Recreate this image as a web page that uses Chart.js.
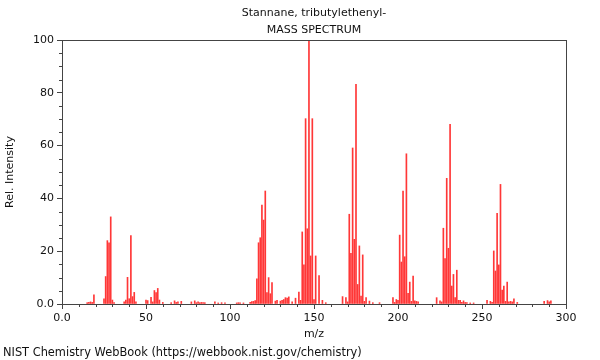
<!DOCTYPE html>
<html>
<head>
<meta charset="utf-8">
<script src="https://cdn.jsdelivr.net/npm/chart.js@4.4.0/dist/chart.umd.min.js"></script>
<style>
  html, body { margin: 0; padding: 0; background: #fff; }
  #wrap { width: 600px; height: 360px; }
</style>
</head>
<body>
<div id="wrap"><canvas id="myChart" width="600" height="360"></canvas></div>
<script>
// m/z values and relative intensities
var mz = [
  15, 16, 17, 18, 19, 25, 26, 27, 28, 29, 30, 31,
  37, 38, 39, 40, 41, 42, 43, 44, 50, 51, 53, 54, 55, 56, 57, 58, 60,
  65, 67, 68, 69, 71, 77, 79, 80, 81, 82, 83, 84, 85, 91, 93, 95, 97,
  104, 105, 106, 108, 112, 113, 114, 115, 116, 117, 118, 119, 120, 121,
  122, 123, 124, 125, 127, 128, 130, 131, 132, 133, 134, 135, 137, 139,
  141, 142, 143, 144, 145, 146, 147, 148, 149, 150, 151, 153, 155, 157,
  167, 169, 170, 171, 172, 173, 174, 175, 176, 177, 178, 179, 180, 181, 183, 185, 189,
  197, 198, 199, 200, 201, 202, 203, 204, 205, 206, 207, 208, 209, 210, 211, 212,
  223, 225, 226, 227, 228, 229, 230, 231, 232, 233, 234, 235, 236, 237, 238, 239, 240, 241, 243, 245,
  253, 255, 256, 257, 258, 259, 260, 261, 262, 263, 264, 265, 266, 267, 268, 269, 271,
  287, 289, 290, 291
];
var intensity = [
  0.5, 0.6, 0.8, 0.6, 3.5, 2.0, 10.4, 24.0, 23.2, 33.0, 1.5, 0.5,
  0.8, 1.5, 10.1, 2.0, 25.9, 2.8, 4.4, 0.8, 1.5, 1.3, 2.5, 0.8, 5.1, 4.3, 5.9, 1.5, 0.6,
  0.5, 1.2, 0.6, 0.8, 1.0, 0.8, 1.2, 0.5, 0.8, 0.5, 0.6, 0.5, 0.5, 0.8, 0.4, 0.5, 0.4,
  0.4, 0.5, 0.4, 0.4, 0.6, 0.9, 1.0, 1.3, 9.5, 23.2, 25.1, 37.5, 31.8, 42.8,
  4.3, 10.0, 3.9, 8.1, 1.1, 1.4, 1.1, 1.4, 1.7, 2.4, 2.2, 2.7, 0.8, 2.2,
  4.5, 1.4, 27.3, 14.8, 70.2, 28.5, 100, 18.2, 70.2, 1.7, 18.2, 10.8, 1.4, 0.5,
  2.8, 2.4, 0.8, 34.0, 19.2, 59.1, 24.5, 83.2, 7.4, 22.0, 3.0, 18.6, 1.0, 2.4, 1.1, 0.5, 0.5,
  2.4, 0.6, 1.7, 1.4, 26.1, 15.9, 42.8, 17.9, 56.9, 4.0, 8.3, 1.0, 10.6, 1.2, 1.0, 0.8,
  2.4, 1.2, 0.8, 28.7, 17.2, 47.6, 21.1, 68.1, 6.8, 11.2, 2.4, 12.8, 1.4, 1.4, 0.6, 1.2, 0.6, 0.5, 0.4, 0.4,
  1.4, 1.0, 0.6, 20.1, 12.5, 34.3, 14.8, 45.3, 5.3, 6.8, 1.0, 8.3, 0.8, 1.0, 0.8, 2.0, 0.6,
  1.0, 1.3, 0.8, 1.2
];
var xTicks = [0, 50, 100, 150, 200, 250, 300];
var yTicks = [0, 20, 40, 60, 80, 100];

var points = mz.map(function (m, i) { return { x: m, y: intensity[i] }; });

var axisColor = '#444';
var textColor = '#111';
var font = { family: 'DejaVu Sans', size: 11 };

// frame, minor ticks and the text lines around the plot
var decorations = {
  id: 'decorations',
  afterDraw: function (chart) {
    var c = chart.ctx;
    var a = chart.chartArea;
    var xs = chart.scales.x, ys = chart.scales.y;
    c.save();
    c.strokeStyle = axisColor;
    c.lineWidth = 1;
    c.strokeRect(Math.round(a.left) + 0.5, Math.round(a.top) + 0.5,
      Math.round(a.right - a.left), Math.round(a.bottom - a.top));
    c.beginPath();
    for (var v = 0; v <= 300; v += 10) {
      if (v % 50 === 0) continue;
      var px = Math.round(xs.getPixelForValue(v)) + 0.5;
      c.moveTo(px, a.bottom);
      c.lineTo(px, a.bottom + 3);
    }
    for (var w = 0; w <= 100; w += 5) {
      if (w % 20 === 0) continue;
      var py = Math.round(ys.getPixelForValue(w)) + 0.5;
      c.moveTo(a.left, py);
      c.lineTo(a.left - 3, py);
    }
    c.stroke();

    c.fillStyle = textColor;
    c.font = '11px "DejaVu Sans"';
    c.textAlign = 'center';
    c.textBaseline = 'middle';
    var cx = (a.left + a.right) / 2;
    c.fillText('Stannane, tributylethenyl-', cx, 13);
    c.fillText('MASS SPECTRUM', cx, 30);
    c.textAlign = 'left';
    c.font = '11.4px "DejaVu Sans"';
    c.fillText('NIST Chemistry WebBook (https://webbook.nist.gov/chemistry)', 3, 353);
    c.restore();
  }
};

var ctx = document.getElementById('myChart').getContext('2d');
var myChart = new Chart(ctx, {
  type: 'bar',
  data: {
    datasets: [{
      data: points,
      backgroundColor: 'rgb(255, 55, 55)',
      borderWidth: 0,
      barThickness: 1
    }]
  },
  options: {
    responsive: false,
    animation: false,
    layout: { padding: { top: 40, right: 34, left: 0, bottom: 0 } },
    plugins: {
      legend: { display: false },
      tooltip: { enabled: false }
    },
    scales: {
      x: {
        type: 'linear',
        min: 0,
        max: 300,
        offset: false,
        afterFit: function (s) { s.height = 56; },
        afterBuildTicks: function (s) { s.ticks = xTicks.map(function (v) { return { value: v }; }); },
        grid: { drawOnChartArea: false, tickLength: 5, color: axisColor, offset: false },
        border: { color: axisColor },
        ticks: {
          color: textColor, font: font, padding: 3, maxRotation: 0,
          callback: function (v) { return v === 0 ? '0.0' : String(v); }
        },
        title: { display: true, text: 'm/z', color: textColor, font: font, padding: { top: 0, bottom: 19 } }
      },
      y: {
        min: 0,
        max: 100,
        afterFit: function (s) { s.width = 62; },
        afterBuildTicks: function (s) { s.ticks = yTicks.map(function (v) { return { value: v }; }); },
        grid: { drawOnChartArea: false, tickLength: 5, color: axisColor },
        border: { color: axisColor },
        ticks: {
          color: textColor, font: font, padding: 3,
          callback: function (v) { return v === 0 ? '0.0' : String(v); }
        },
        title: { display: true, text: 'Rel. Intensity', color: textColor, font: font, padding: { top: 4, bottom: 0 } }
      }
    }
  },
  plugins: [decorations]
});
</script>
</body>
</html>
